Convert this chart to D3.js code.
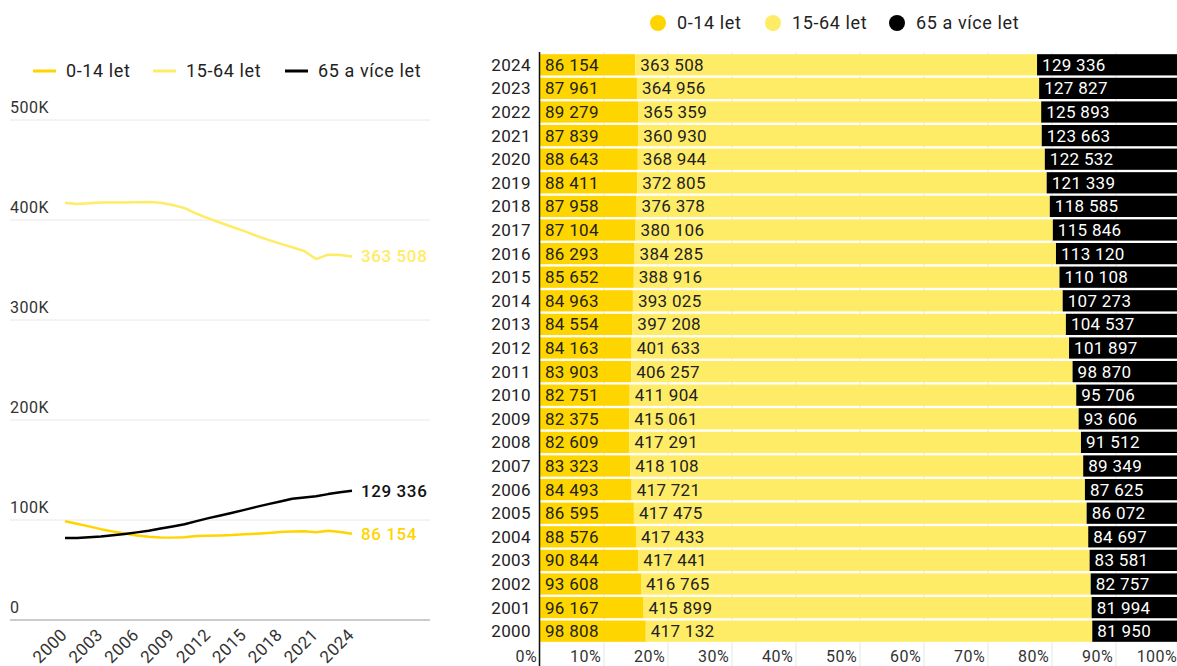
<!DOCTYPE html>
<html lang="cs">
<head>
<meta charset="utf-8">
<title>Věkové skupiny</title>
<script src="https://d3js.org/d3.v7.min.js"></script>
<style>
  body { margin: 0; background: #fff; font-family: Roboto, "Liberation Sans", sans-serif; }
  svg text { fill: #222; }
</style>
</head>
<body>
<svg id="viz" width="1177" height="666"></svg>
<script>
// data
const years = d3.range(2000, 2025);
const kids = [98808, 96167, 93608, 90844, 88576, 86595, 84493, 83323, 82609, 82375, 82751, 83903, 84163, 84554, 84963, 85652, 86293, 87104, 87958, 88411, 88643, 87839, 89279, 87961, 86154];
const adults = [417132, 415899, 416765, 417441, 417433, 417475, 417721, 418108, 417291, 415061, 411904, 406257, 401633, 397208, 393025, 388916, 384285, 380106, 376378, 372805, 368944, 360930, 365359, 364956, 363508];
const seniors = [81950, 81994, 82757, 83581, 84697, 86072, 87625, 89349, 91512, 93606, 95706, 98870, 101897, 104537, 107273, 110108, 113120, 115846, 118585, 121339, 122532, 123663, 125893, 127827, 129336];
const groups = ["0-14 let", "15-64 let", "65 a více let"];
const yTicks = [0, 100000, 200000, 300000, 400000, 500000];
const yearTicks = [2000, 2003, 2006, 2009, 2012, 2015, 2018, 2021, 2024];
const pctTicks = d3.range(0, 1.01, 0.1);

const colors = ["#ffd500", "#ffec66", "#000000"];
const series = [kids, adults, seniors];
const fmt = v => d3.format(",")(v).replace(/,/g, " ");

const svg = d3.select("#viz");

// ---------- left: line chart ----------
const x = d3.scaleLinear().domain([2000, 2024]).range([65, 352]);
const y = d3.scaleLinear().domain([0, 500000]).range([620, 120]);

const left = svg.append("g");

left.append("g").selectAll("line")
  .data(yTicks)
  .join("line")
    .attr("x1", 10).attr("x2", 430)
    .attr("y1", d => y(d)).attr("y2", d => y(d))
    .attr("stroke", d => d === 0 ? "#999" : "#e8e8e8")
    .attr("stroke-width", 1);

left.append("g").selectAll("text")
  .data(yTicks)
  .join("text")
    .attr("x", 10).attr("y", d => y(d) - 7)
    .attr("font-size", 16)
    .attr("letter-spacing", 0.5)
    .style("fill", "#333")
    .text(d => d === 0 ? "0" : (d / 1000) + "K");

left.append("g").selectAll("text")
  .data(yearTicks)
  .join("text")
    .attr("transform", d => `translate(${x(d) + 3},${636}) rotate(-45)`)
    .attr("text-anchor", "end")
    .attr("font-size", 17)
    .attr("letter-spacing", 0.4)
    .style("fill", "#333")
    .text(d => d);

const line = d3.line().x((d, i) => x(years[i])).y(d => y(d));
series.forEach((s, k) => {
  left.append("path")
    .datum(s)
    .attr("fill", "none")
    .attr("stroke", colors[k])
    .attr("stroke-width", 2.5)
    .attr("stroke-linejoin", "round")
    .attr("d", line);
  left.append("text")
    .attr("x", 361).attr("y", y(s[s.length - 1]))
    .attr("dy", "0.35em")
    .attr("font-size", 17)
    .attr("letter-spacing", 0.6)
    .attr("font-weight", 500)
    .style("fill", k === 2 ? "#111" : colors[k])
    .text(fmt(s[s.length - 1]));
});

// left legend
const legL = left.append("g");
const legLx = [33, 153, 285];
groups.forEach((g, k) => {
  legL.append("line")
    .attr("x1", legLx[k]).attr("x2", legLx[k] + 23)
    .attr("y1", 71).attr("y2", 71)
    .attr("stroke", colors[k]).attr("stroke-width", 3);
  legL.append("text")
    .attr("x", legLx[k] + 33).attr("y", 71).attr("dy", "0.35em")
    .attr("font-size", 18)
    .attr("letter-spacing", 0.6)
    .text(g);
});

// ---------- right: 100% stacked bars ----------
const rows = years.map((yr, i) => ({year: yr, a: kids[i], b: adults[i], c: seniors[i]}));
const stack = d3.stack().keys(["a", "b", "c"]).offset(d3.stackOffsetExpand)(rows);

const xs = d3.scaleLinear().domain([0, 1]).range([540, 1180]);
const ys = d3.scaleBand().domain(years.slice().reverse()).range([53, 643]).paddingInner(0.1).paddingOuter(0.05);

const right = svg.append("g");

right.append("g").selectAll("line")
  .data(pctTicks)
  .join("line")
    .attr("x1", d => xs(d)).attr("x2", d => xs(d))
    .attr("y1", 52).attr("y2", 666)
    .attr("stroke", "#e6e6e6");

right.append("g").selectAll("text")
  .data(pctTicks)
  .join("text")
    .attr("x", d => xs(d) - 3).attr("y", 656)
    .attr("dy", "0.35em")
    .attr("text-anchor", "end")
    .attr("font-size", 16)
    .attr("letter-spacing", 0.4)
    .style("fill", "#333")
    .text(d => Math.round(d * 100) + "%");

stack.forEach((layer, k) => {
  const g = right.append("g");
  g.selectAll("rect")
    .data(layer)
    .join("rect")
      .attr("x", d => xs(d[0]))
      .attr("width", d => xs(d[1]) - xs(d[0]))
      .attr("y", d => ys(d.data.year))
      .attr("height", ys.bandwidth())
      .attr("fill", colors[k]);
  g.selectAll("text")
    .data(layer)
    .join("text")
      .attr("x", d => xs(d[0]) + 5)
      .attr("y", d => ys(d.data.year) + ys.bandwidth() / 2)
      .attr("dy", "0.35em")
      .attr("font-size", 17)
      .attr("letter-spacing", 0.3)
      .style("fill", k === 2 ? "#fff" : "#222")
      .text(d => fmt(d.data[layer.key]));
});

right.append("g").selectAll("text")
  .data(years)
  .join("text")
    .attr("x", 531)
    .attr("y", d => ys(d) + ys.bandwidth() / 2)
    .attr("dy", "0.35em")
    .attr("text-anchor", "end")
    .attr("font-size", 17)
    .attr("letter-spacing", 0.4)
    .style("fill", "#222")
    .text(d => d);

right.append("line")
  .attr("x1", 539.5).attr("x2", 539.5)
  .attr("y1", 52).attr("y2", 666)
  .attr("stroke", "#111").attr("stroke-width", 1.5);

// right legend
const legRx = [658, 773, 897];
groups.forEach((g, k) => {
  right.append("circle")
    .attr("cx", legRx[k]).attr("cy", 23).attr("r", 8)
    .attr("fill", colors[k]);
  right.append("text")
    .attr("x", legRx[k] + 19).attr("y", 23).attr("dy", "0.35em")
    .attr("font-size", 18)
    .attr("letter-spacing", 0.6)
    .text(g);
});
</script>
</body>
</html>
